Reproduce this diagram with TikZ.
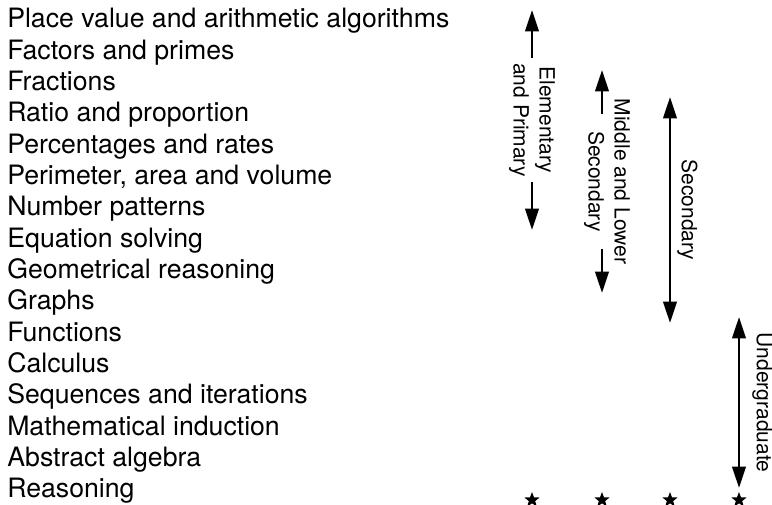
\documentclass[tikz,border=0pt]{standalone}
\usepackage{fontspec}
\setmainfont{TeX Gyre Heros}
\usetikzlibrary{arrows.meta,shapes.geometric}

\newcommand{\topicfont}{\fontsize{20}{23}\selectfont}
\newcommand{\stagefont}{\fontsize{15.75}{19.5}\selectfont}

\tikzset{
  topic/.style={anchor=base west,inner sep=0pt,font=\topicfont},
  stage/.style={rotate=-90,align=center,inner sep=3.75pt,font=\stagefont},
  arr/.style={line width=2pt,-{Triangle[length=16pt,width=10pt]}},
  both/.style={line width=2pt,{Triangle[length=16pt,width=10pt]}-{Triangle[length=16pt,width=10pt]}},
  starmark/.style={star,star points=5,star point ratio=2.4,fill=black,inner sep=0pt,minimum size=12pt}
}

\begin{document}
\begin{tikzpicture}[x=0.75pt,y=-0.75pt]
\useasboundingbox (0,0) rectangle (772,505);

% list of topics
\foreach \t [count=\i from 0] in {Place value and arithmetic algorithms,
  Factors and primes, Fractions, Ratio and proportion, Percentages and rates,
  {Perimeter, area and volume}, Number patterns, Equation solving,
  Geometrical reasoning, Graphs, Functions, Calculus,
  Sequences and iterations, Mathematical induction, Abstract algebra, Reasoning}
  \node[topic] (topic\i) at (7,28+31.33*\i) {\t};

% elementary and primary
\coordinate (elemtop) at (532,10);
\coordinate (elembot) at (532,230);
\node[stage] (elem) at (532,120) {Elementary\\and Primary};
\draw[arr] (elem) -- (elemtop);
\draw[arr] (elem) -- (elembot);

% middle and lower secondary
\coordinate (midtop) at (602,70);
\coordinate (midbot) at (602,293);
\node[stage] (mid) at (607,181.5) {Middle and Lower\\Secondary};
\draw[arr,shorten <=-15pt] (mid.west -| midtop) -- (midtop);
\draw[arr,shorten <=-15pt] (mid.east -| midbot) -- (midbot);

% secondary
\coordinate (sectop) at (670,97);
\coordinate (secbot) at (670,323);
\draw[both] (sectop) -- (secbot);
\node[stage,inner sep=0pt,anchor=south] (sec) at (677,210) {Secondary};

% undergraduate
\coordinate (undtop) at (739,317);
\coordinate (undbot) at (739,488);
\draw[both] (undtop) -- (undbot);
\node[stage,inner sep=0pt,anchor=south] (und) at (752,402.5) {Undergraduate};

% stars
\foreach \x [count=\j] in {532,602,670,739}
  \node[starmark] (star\j) at (\x,500) {};
\end{tikzpicture}
\end{document}
